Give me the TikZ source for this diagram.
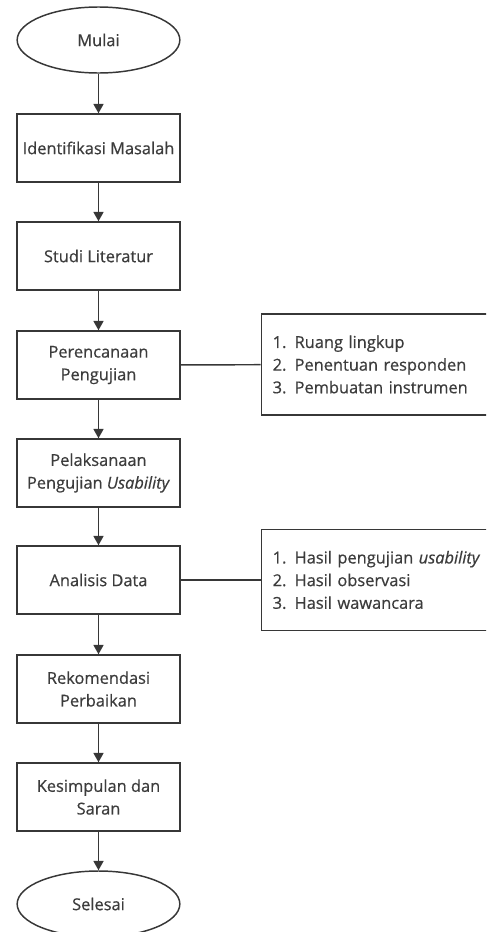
\documentclass[tikz,border=0pt]{standalone}
\usepackage{fontspec}
\setmainfont{Open Sans}[FakeBold=0.6]
\usetikzlibrary{arrows.meta,positioning,shapes.geometric}
\definecolor{lineGray}{RGB}{55,55,55}
\definecolor{textGray}{RGB}{60,60,60}

\begin{document}
\begin{tikzpicture}[x=0.75pt,y=-0.75pt,
    every node/.style={font=\fontsize{12.3}{17}\selectfont, text=textGray},
    terminal/.style={ellipse, draw=lineGray, line width=1.1pt, minimum width=122pt, minimum height=49.5pt, inner sep=0pt},
    process/.style={rectangle, draw=lineGray, line width=1.1pt, minimum width=122pt, minimum height=51pt, align=center, inner sep=1pt},
    notebox/.style={rectangle, draw=lineGray, line width=1.1pt, anchor=west, text width=170pt, inner xsep=8.6pt, minimum height=76pt, align=left},
    flow/.style={-{Triangle[length=7pt,width=7.5pt]}, lineGray, line width=1.1pt}]
    \useasboundingbox (0,0) rectangle (486,932);
    \clip (0,0) rectangle (486,932);
    % Main flow
    \node[terminal] (mulai) at (98.5,40) {Mulai};
    \node[process] (identifikasi) at (98.5,148) {Identifikasi Masalah};
    \node[process] (studi) at (98.5,256) {Studi Literatur};
    \node[process] (perencanaan) at (98.5,365) {Perencanaan\\Pengujian};
    \node[process] (pelaksanaan) at (98.5,473) {Pelaksanaan\\Pengujian \textit{Usability}};
    \node[process] (analisis) at (98.5,580) {Analisis Data};
    \node[process] (rekomendasi) at (98.5,689) {Rekomendasi\\Perbaikan};
    \node[process] (kesimpulan) at (98.5,797) {Kesimpulan dan\\Saran};
    \node[terminal] (selesai) at (98.5,904) {Selesai};
    % Side notes
    \node[notebox] (lingkup) at (260.5,364.5) {1. Ruang lingkup\\2. Penentuan responden\\3. Pembuatan instrumen};
    \node[notebox] (hasil) at (260.5,580) {1. Hasil pengujian \textit{usability}\\2. Hasil observasi\\3. Hasil wawancara};
    % Arrows
    \foreach \a/\b in {mulai/identifikasi, identifikasi/studi, studi/perencanaan,
        perencanaan/pelaksanaan, pelaksanaan/analisis, analisis/rekomendasi,
        rekomendasi/kesimpulan, kesimpulan/selesai}
      \draw[flow] (\a) -- (\b);
    % Links to notes
    \draw[lineGray, line width=1.1pt] (perencanaan) -- (lingkup);
    \draw[lineGray, line width=1.1pt] (analisis) -- (hasil);
\end{tikzpicture}
\end{document}
